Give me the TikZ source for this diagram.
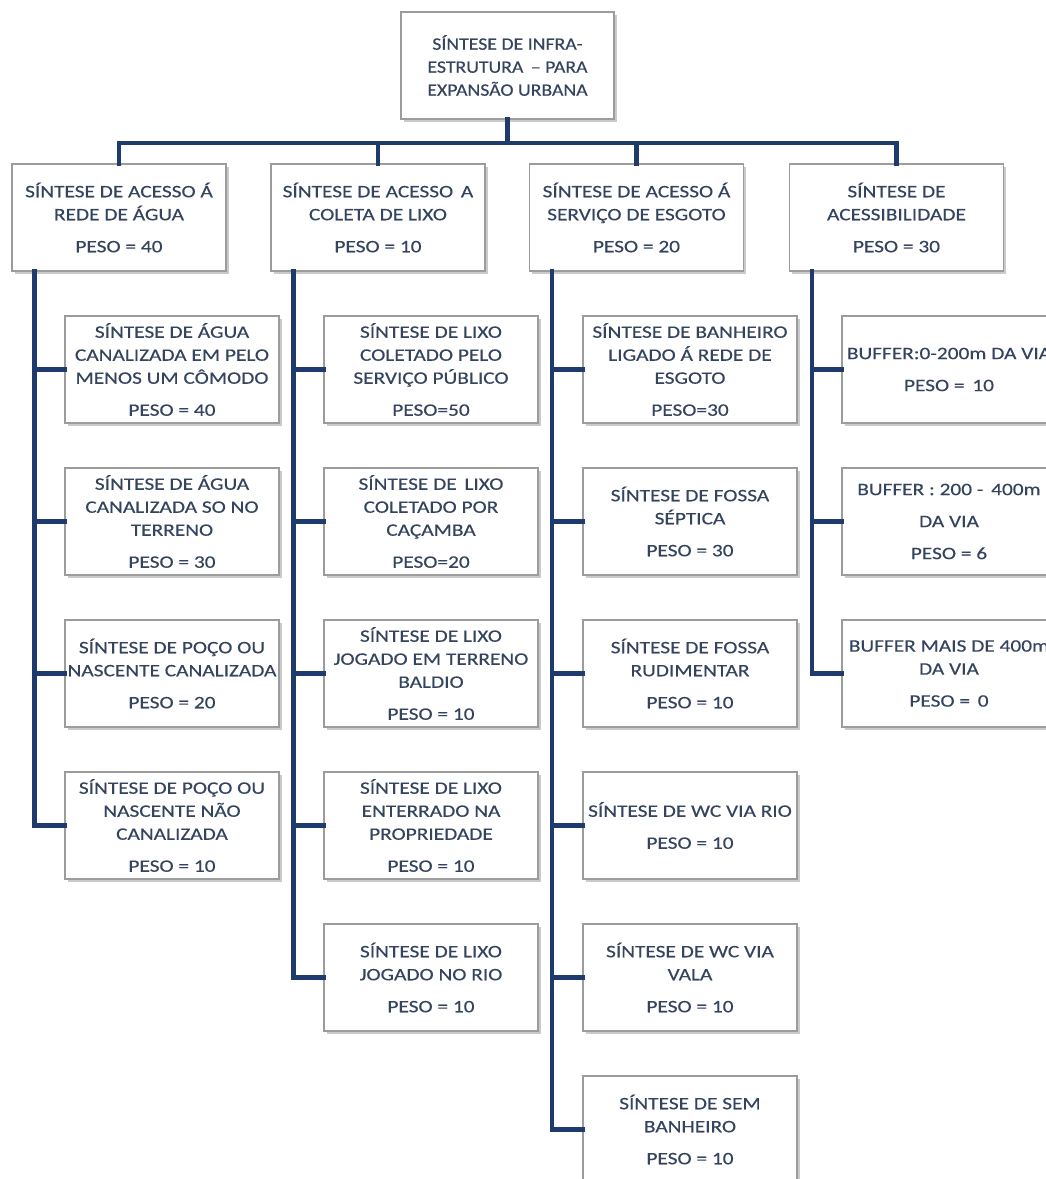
\documentclass[tikz,border=0pt]{standalone}
\usepackage{fontspec}
\setmainfont{Carlito}[FakeStretch=1.22, FakeBold=0.3]
\newfontfamily\rootfont{Carlito}[FakeStretch=1.13, FakeBold=0.3]
\usetikzlibrary{shadows}
\definecolor{navy}{HTML}{1F3B6E}
\definecolor{txt}{HTML}{34445F}
\definecolor{bord}{HTML}{9C9C9C}
\begin{document}
\begin{tikzpicture}[x=1pt,y=-1pt,
  box/.style={draw=bord, line width=1.2pt, fill=white, minimum width=214pt, minimum height=107pt,
    inner sep=0pt, align=center, text=txt, font=\fontsize{17.5}{23}\selectfont,
    drop shadow={shadow xshift=2.5pt, shadow yshift=-2.5pt, fill=black!35, opacity=0.6}},
  conn/.style={draw=navy, line width=4.5pt, line cap=rect}]
\useasboundingbox (0,0) rectangle (1046,1179);
\clip (0,0) rectangle (1046,1179);
\def\pg{\\[9pt]}
% root
\node[box, minimum width=213pt, font=\rootfont\fontsize{17.5}{23}\selectfont] (root) at (507.5,65.5) {SÍNTESE DE INFRA-\\ESTRUTURA \,– PARA\\EXPANSÃO URBANA};
% level 1
\node[box] (a) at (119,217.5) {SÍNTESE DE ACESSO Á\\REDE DE ÁGUA\pg PESO = 40};
\node[box] (b) at (378,217.5) {SÍNTESE DE ACESSO \,A\\COLETA DE LIXO\pg PESO = 10};
\node[box] (c) at (636.5,217.5) {SÍNTESE DE ACESSO Á\\SERVIÇO DE ESGOTO\pg PESO = 20};
\node[box] (d) at (896.5,217.5) {SÍNTESE DE\\ACESSIBILIDADE\pg PESO = 30};
% A children
\node[box] (a1) at (172,369.5) {SÍNTESE DE ÁGUA\\CANALIZADA EM PELO\\MENOS UM CÔMODO\pg PESO = 40};
\node[box] (a2) at (172,521.5) {SÍNTESE DE ÁGUA\\CANALIZADA SO NO\\TERRENO\pg PESO = 30};
\node[box] (a3) at (172,673.5) {SÍNTESE DE POÇO OU\\NASCENTE CANALIZADA\pg PESO = 20};
\node[box] (a4) at (172,825.5) {SÍNTESE DE POÇO OU\\NASCENTE NÃO\\CANALIZADA\pg PESO = 10};
% B children
\node[box] (b1) at (431,369.5) {SÍNTESE DE LIXO\\COLETADO PELO\\SERVIÇO PÚBLICO\pg PESO=50};
\node[box] (b2) at (431,521.5) {SÍNTESE DE \,LIXO\\COLETADO POR\\CAÇAMBA\pg PESO=20};
\node[box] (b3) at (431,673.5) {SÍNTESE DE LIXO\\JOGADO EM TERRENO\\BALDIO\pg PESO = 10};
\node[box] (b4) at (431,825.5) {SÍNTESE DE LIXO\\ENTERRADO NA\\PROPRIEDADE\pg PESO = 10};
\node[box] (b5) at (431,977.5) {SÍNTESE DE LIXO\\JOGADO NO RIO\pg PESO = 10};
% C children
\node[box] (c1) at (690,369.5) {SÍNTESE DE BANHEIRO\\LIGADO Á REDE DE\\ESGOTO\pg PESO=30};
\node[box] (c2) at (690,521.5) {SÍNTESE DE FOSSA\\SÉPTICA\pg PESO = 30};
\node[box] (c3) at (690,673.5) {SÍNTESE DE FOSSA\\RUDIMENTAR\pg PESO = 10};
\node[box] (c4) at (690,825.5) {SÍNTESE DE WC VIA RIO\pg PESO = 10};
\node[box] (c5) at (690,977.5) {SÍNTESE DE WC VIA\\VALA\pg PESO = 10};
\node[box] (c6) at (690,1129.5) {SÍNTESE DE SEM\\BANHEIRO\pg PESO = 10};
% D children
\node[box] (d1) at (949,369.5) {BUFFER:0-200m DA VIA\pg PESO = \,10};
\node[box] (d2) at (949,521.5) {BUFFER : 200 - \,400m\pg DA VIA\pg PESO = 6};
\node[box] (d3) at (949,673.5) {BUFFER MAIS DE 400m\\DA VIA\pg PESO = \,0};
% connectors root -> level 1
\coordinate (bus) at (507.5,143);
\draw[conn] (root.south) -- (bus);
\draw[conn] (a.north) |- (bus) -| (d.north);
\draw[conn] (b.north) -- (b.north |- bus);
\draw[conn] (c.north) -- (c.north |- bus);
% spines
\foreach \p/\last/\lst in {a/a4/{a1,a2,a3}, b/b5/{b1,b2,b3,b4}, c/c6/{c1,c2,c3,c4,c5}, d/d3/{d1,d2}}{
  \coordinate (s\p) at ([xshift=23pt]\p.south west);
  \draw[conn] (s\p) |- (\last.west);
  \foreach \q in \lst { \draw[conn] (s\p |- \q.west) -- (\q.west); }
}
\end{tikzpicture}
\end{document}
